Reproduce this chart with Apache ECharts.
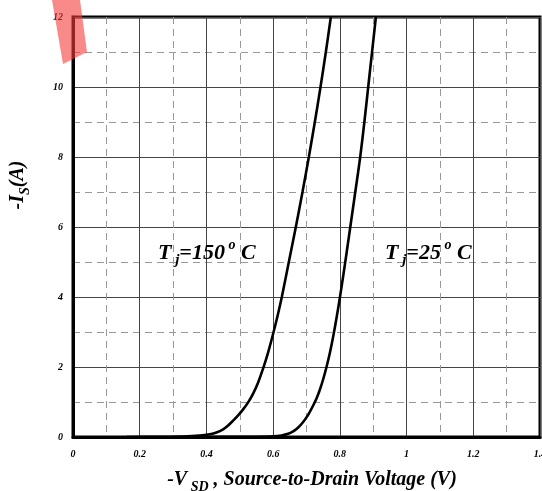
<!DOCTYPE html>
<html>
<head>
<meta charset="utf-8">
<script src="https://cdn.jsdelivr.net/npm/echarts@6/dist/echarts.min.js"></script>
<style>
  html, body { margin: 0; padding: 0; background: #fff; }
  #chart { width: 542px; height: 491px; }
</style>
</head>
<body>
<div id="chart"></div>
<script>
// Diode forward characteristic: -Is (A) versus -Vsd (V)
const xTicks = [0, 0.2, 0.4, 0.6, 0.8, 1, 1.2, 1.4];
const yTicks = [0, 2, 4, 6, 8, 10, 12];

// Tj = 150 °C curve  [Vsd, Is]
const curveHot = [
  [0.16, 0], [0.25, 0.005], [0.33, 0.015], [0.38, 0.04], [0.41, 0.08], [0.43, 0.13],
  [0.45, 0.22], [0.465, 0.33], [0.48, 0.47], [0.495, 0.62], [0.51, 0.79], [0.525, 0.99],
  [0.54, 1.24], [0.555, 1.56], [0.57, 1.96], [0.585, 2.42], [0.6, 2.95], [0.613, 3.45],
  [0.626, 4], [0.647, 5], [0.668, 6], [0.688, 7], [0.707, 8], [0.725, 9],
  [0.742, 10], [0.758, 11], [0.773, 12]
];

// Tj = 25 °C curve  [Vsd, Is]
const curveCold = [
  [0.3, 0], [0.45, 0.003], [0.55, 0.008], [0.6, 0.02], [0.625, 0.045], [0.645, 0.09],
  [0.66, 0.16], [0.67, 0.23], [0.68, 0.32], [0.69, 0.43], [0.70, 0.56], [0.71, 0.72],
  [0.72, 0.9], [0.73, 1.1], [0.74, 1.35], [0.75, 1.65], [0.76, 2], [0.77, 2.4],
  [0.78, 2.87], [0.79, 3.4], [0.80, 3.98], [0.81, 4.6], [0.82, 5.25], [0.832, 6.05],
  [0.847, 7.05], [0.861, 8], [0.8735, 9], [0.885, 10], [0.8965, 11], [0.908, 12]
];

const serif = '"Liberation Serif", "Times New Roman", serif';
const chart = echarts.init(document.getElementById('chart'), null, { renderer: 'canvas' });

const tickFont = { fontFamily: serif, fontStyle: 'italic', fontWeight: 'bold', fontSize: 10, color: '#000' };
const big = { fontFamily: serif, fontStyle: 'italic', fontWeight: 'bold', color: '#000' };

function tempLabel(x, y, t) {
  return {
    type: 'text', x: x, y: y, z: 50,
    style: {
      text: '{m|T}{s| j}{m|=' + t + '}{o| o}{m| C}',
      align: 'left', verticalAlign: 'middle',
      rich: {
        m: Object.assign({ fontSize: 22, lineHeight: 30, verticalAlign: 'middle' }, big),
        s: Object.assign({ fontSize: 15, lineHeight: 30, verticalAlign: 'bottom' }, big),
        o: Object.assign({ fontSize: 14, lineHeight: 30, verticalAlign: 'top' }, big)
      }
    }
  };
}

chart.setOption({
  animation: false,
  backgroundColor: '#fff',
  grid: {
    left: 73, right: 2, top: 17, bottom: 54, outerBoundsMode: 'none', containLabel: false,
    show: true, borderColor: '#000', borderWidth: 3, backgroundColor: 'transparent'
  },
  xAxis: {
    type: 'value', min: xTicks[0], max: xTicks[xTicks.length - 1], interval: 0.2,
    axisLine: { show: true, lineStyle: { color: '#000', width: 3 } },
    axisTick: { show: false },
    axisLabel: Object.assign({ margin: 12, hideOverlap: false, formatter: v => String(Math.round(v * 10) / 10) }, tickFont),
    splitLine: { show: true, lineStyle: { color: '#444', width: 1 } },
    minorTick: { show: false, splitNumber: 2 },
    minorSplitLine: { show: true, lineStyle: { color: '#999', width: 1, type: [7, 5] } }
  },
  yAxis: {
    type: 'value', min: yTicks[0], max: yTicks[yTicks.length - 1], interval: 2,
    axisLine: { show: true, lineStyle: { color: '#000', width: 3 } },
    axisTick: { show: false },
    axisLabel: Object.assign({ margin: 10 }, tickFont),
    splitLine: { show: true, lineStyle: { color: '#444', width: 1 } },
    minorTick: { show: false, splitNumber: 2 },
    minorSplitLine: { show: true, lineStyle: { color: '#999', width: 1, type: [7, 5] } }
  },
  series: [
    { name: 'Tj=150', type: 'line', data: curveHot, smooth: 0.3, showSymbol: false, lineStyle: { color: '#000', width: 2.6 } },
    { name: 'Tj=25', type: 'line', data: curveCold, smooth: 0.3, showSymbol: false, lineStyle: { color: '#000', width: 2.6 } }
  ],
  graphic: [
    tempLabel(158, 253, '150'),
    tempLabel(385, 253, '25'),
    {
      type: 'text', x: 312, y: 480, z: 50,
      style: {
        text: '{m|-V}{s| SD}{m| , Source-to-Drain Voltage (V)}',
        align: 'center', verticalAlign: 'middle',
        rich: {
          m: Object.assign({ fontSize: 20, lineHeight: 28, verticalAlign: 'middle' }, big),
          s: Object.assign({ fontSize: 14, lineHeight: 28, verticalAlign: 'bottom' }, big)
        }
      }
    },
    {
      type: 'text', x: 18, y: 185, rotation: Math.PI / 2, z: 50,
      style: {
        text: '{m|-I}{s|S}{m|(A)}',
        align: 'center', verticalAlign: 'middle',
        rich: {
          m: Object.assign({ fontSize: 20, lineHeight: 28, verticalAlign: 'middle' }, big),
          s: Object.assign({ fontSize: 14, lineHeight: 28, verticalAlign: 'bottom' }, big)
        }
      }
    },
    {
      type: 'polygon', z: 100,
      shape: { points: [[52, 0], [80, 0], [87, 52], [63, 64]] },
      style: { fill: 'rgba(245, 60, 60, 0.6)' }
    }
  ]
});
</script>
</body>
</html>
